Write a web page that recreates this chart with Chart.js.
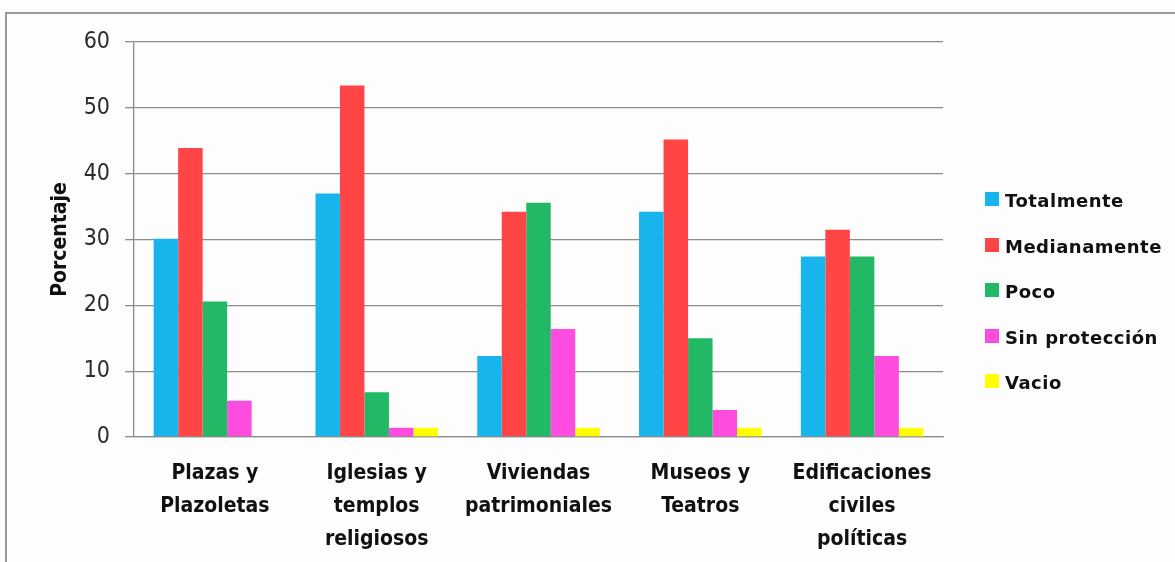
<!DOCTYPE html>
<html>
<head>
<meta charset="utf-8">
<script src="https://cdn.jsdelivr.net/npm/chart.js@4/dist/chart.umd.min.js"></script>
<style>
  html, body { margin: 0; padding: 0; background: #fdfdfd; }
  #wrap { position: relative; width: 1175px; height: 562px; overflow: hidden; }
  #frame { position: absolute; left: 5px; top: 12px; width: 1200px; height: 600px;
           border-left: 2px solid #9a9a9a; border-top: 2px solid #9a9a9a; }
  #chart { position: absolute; left: 0; top: 0; }
  #legend { position: absolute; left: 985px; top: 190px; font: bold 18px "DejaVu Sans", sans-serif;
            letter-spacing: 0.5px; color: #111; }
  #legend div { height: 45.5px; display: flex; align-items: flex-start; }
  #legend span.box { width: 14px; height: 14px; margin-top: 2px; margin-right: 6px; }
</style>
</head>
<body>
<div id="wrap">
  <div id="frame"></div>
  <canvas id="chart" width="1175" height="562"></canvas>
  <div id="legend"></div>
</div>
<script>
// Categories (multi-line labels)
const categories = [
    ["Plazas y", "Plazoletas"],
    ["Iglesias y", "templos", "religiosos"],
    ["Viviendas", "patrimoniales"],
    ["Museos y", "Teatros"],
    ["Edificaciones", "civiles", "políticas"],
];

// Series values (%)
const totalmente = [30.1, 37.0, 12.3, 34.2, 27.4];
const medianamente = [43.9, 53.4, 34.2, 45.2, 31.5];
const poco = [20.6, 6.8, 35.6, 15.0, 27.4];
const sinProteccion = [5.5, 1.4, 16.4, 4.1, 12.3];
const vacio = [0, 1.4, 1.4, 1.4, 1.4];

const seriesNames = ["Totalmente", "Medianamente", "Poco", "Sin protección", "Vacio"];
const seriesColors = ["#17b5ec", "#ff4545", "#23b866", "#fc4ddf", "#ffff00"];
const seriesData = [totalmente, medianamente, poco, sinProteccion, vacio];

const yTicks = [0, 10, 20, 30, 40, 50, 60];

const gridColor = "#8c8c8c";
const labelFont = '"Liberation Sans Narrow", "DejaVu Sans Condensed", sans-serif';

const datasets = seriesNames.map((name, i) => ({
    label: name,
    data: seriesData[i],
    backgroundColor: seriesColors[i],
    borderWidth: 0,
    categoryPercentage: 0.757,
    barPercentage: 1.0,
}));

new Chart(document.getElementById("chart"), {
    type: "bar",
    data: { labels: categories, datasets },
    options: {
        responsive: false,
        animation: false,
        layout: { padding: { top: 42, right: 232, left: 0, bottom: 0 } },
        plugins: { legend: { display: false }, tooltip: { enabled: false } },
        scales: {
            x: {
                grid: { display: false },
                border: { display: true, color: gridColor, width: 1.3 },
                ticks: {
                    color: "#111",
                    padding: 12,
                    maxRotation: 0,
                    autoSkip: false,
                    font: { family: labelFont, size: 21, weight: "bold", lineHeight: 1.57 },
                },
                afterFit: (scale) => { scale.height = 125; },
            },
            y: {
                min: 0,
                max: 60,
                afterBuildTicks: (scale) => { scale.ticks = yTicks.map((v) => ({ value: v })); },
                grid: { color: gridColor, lineWidth: 1.3, tickLength: 9, drawTicks: true },
                border: { display: true, color: gridColor, width: 1.3 },
                ticks: {
                    color: "#2a2a2a",
                    padding: 15,
                    font: { family: labelFont, size: 23 },
                },
                title: {
                    display: true,
                    text: "Porcentaje",
                    color: "#111",
                    padding: { top: 48, bottom: 0 },
                    font: { family: labelFont, size: 21, weight: "bold" },
                },
                afterFit: (scale) => { scale.width = 134; },
            },
        },
    },
});

// Legend
const legendEl = document.getElementById("legend");
seriesNames.forEach((name, i) => {
    const row = document.createElement("div");
    row.innerHTML = `<span class="box" style="background:${seriesColors[i]}"></span><span>${name}</span>`;
    legendEl.appendChild(row);
});
</script>
</body>
</html>
